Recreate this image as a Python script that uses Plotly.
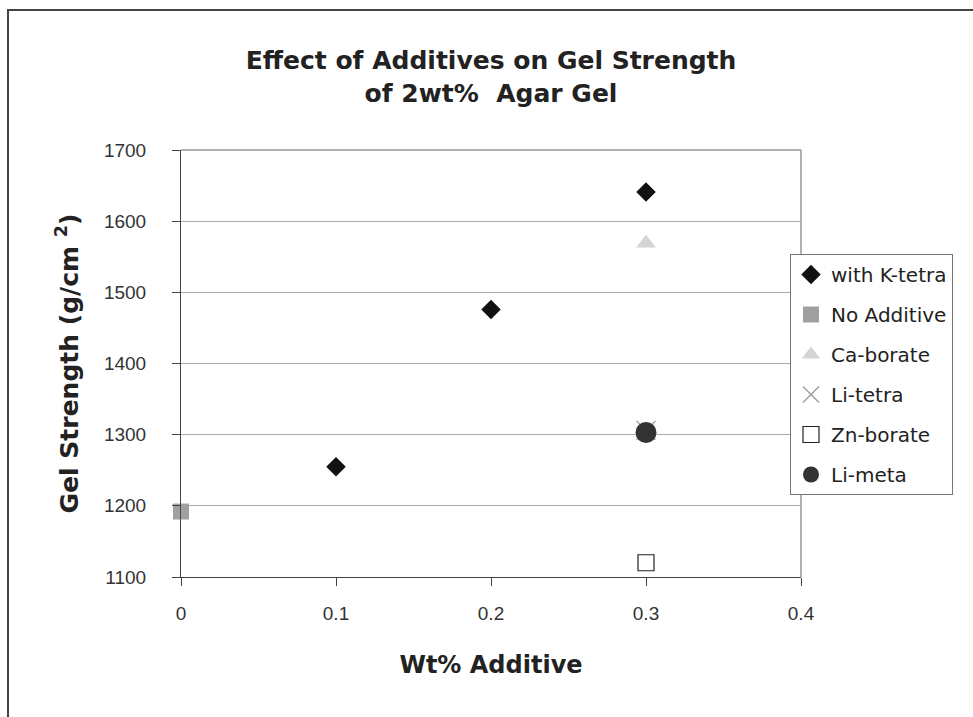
import plotly.graph_objects as go

# Gel strength (g/cm^2) versus additive loading (wt%)
k_tetra_x = [0.1, 0.2, 0.3]
k_tetra_y = [1255, 1476, 1641]
no_add_x = [0.0]
no_add_y = [1192]
ca_borate_x = [0.3]
ca_borate_y = [1569]
li_tetra_x = [0.3]
li_tetra_y = [1306]
zn_borate_x = [0.3]
zn_borate_y = [1120]
li_meta_x = [0.3]
li_meta_y = [1303]

x_ticks = [0, 0.1, 0.2, 0.3, 0.4]
x_tick_text = ["0", "0.1", "0.2", "0.3", "0.4"]
y_ticks = [1100, 1200, 1300, 1400, 1500, 1600, 1700]

series = [
    ("with K-tetra", k_tetra_x, k_tetra_y, dict(symbol="diamond", size=15, color="#111111")),
    ("No Additive", no_add_x, no_add_y, dict(symbol="square", size=16, color="#a0a0a0")),
    ("Ca-borate", ca_borate_x, ca_borate_y, dict(symbol="triangle-up", size=17, color="#d4d4d4")),
    ("Li-tetra", li_tetra_x, li_tetra_y, dict(symbol="x-thin-open", size=19, color="#999999",
                                              line=dict(width=1.3, color="#999999"))),
    ("Zn-borate", zn_borate_x, zn_borate_y, dict(symbol="square-open", size=16, color="#222222",
                                                line=dict(width=1.2, color="#222222"))),
    ("Li-meta", li_meta_x, li_meta_y, dict(symbol="circle", size=21, color="#333333")),
]

fig = go.Figure()
for name, xs, ys, marker in series:
    fig.add_trace(go.Scatter(x=xs, y=ys, mode="markers", name=name, marker=marker,
                             legendgroup=name, cliponaxis=False))

W, H = 973, 717
L, R, T, B = 181, 172, 150, 140
pw, ph = W - L - R, H - T - B


def px_x(p):
    return (p - L) / pw


def px_y(p):
    return (H - B - p) / ph


BOLD = "DejaVu Sans, Verdana, sans-serif"
THIN = "Liberation Sans, Arial, sans-serif"

fig.update_layout(
    width=W, height=H,
    margin=dict(l=L, r=R, t=T, b=B),
    paper_bgcolor="white", plot_bgcolor="white",
    font=dict(family=BOLD, color="#222222"),
    title=dict(text="<b>Effect of Additives on Gel Strength<br>of 2wt%  Agar Gel</b>",
               x=0.5, xref="paper", xanchor="center",
               y=1 - 69 / H, yanchor="middle",
               font=dict(size=25, color="#222222", family=BOLD)),
    showlegend=True,
    legend=dict(x=px_x(790), xanchor="left", y=px_y(254), yanchor="top",
                bgcolor="white", bordercolor="#777777", borderwidth=1,
                font=dict(size=20, color="#222222", family=BOLD),
                tracegroupgap=11, itemsizing="trace", itemwidth=30),
    xaxis=dict(range=[0, 0.4], tickvals=x_ticks, ticktext=x_tick_text,
               showgrid=False, zeroline=False,
               showline=True, linecolor="#444444", linewidth=1, mirror=False,
               ticks="outside", ticklen=8, tickcolor="#444444",
               ticklabelstandoff=11,
               tickfont=dict(size=19, color="#333333", family=THIN),
               title=dict(text="<b>Wt% Additive</b>",
                          font=dict(size=24, color="#222222", family=BOLD),
                          standoff=33)),
    yaxis=dict(range=[1100, 1700], tickvals=y_ticks,
               showgrid=True, gridcolor="#aaaaaa", gridwidth=1, zeroline=False,
               showline=True, linecolor="#444444", linewidth=1, mirror=False,
               ticks="outside", ticklen=8, tickcolor="#444444",
               ticklabelstandoff=22,
               tickfont=dict(size=19, color="#333333", family=THIN),
               title=dict(text="<b>Gel Strength (g/cm <sup>2</sup>)</b>",
                          font=dict(size=25, color="#222222", family=BOLD), standoff=18)),
    shapes=[
        # top and right edges of the plot area
        dict(type="line", xref="paper", yref="paper", x0=0, x1=1, y0=1, y1=1,
             line=dict(color="#999999", width=1.5)),
        dict(type="line", xref="paper", yref="paper", x0=1, x1=1, y0=0, y1=1,
             line=dict(color="#999999", width=1.5)),
        # outer chart frame
        dict(type="rect", xref="paper", yref="paper",
             x0=px_x(8), x1=px_x(980), y0=px_y(725), y1=px_y(10),
             line=dict(color="#444444", width=2), layer="below"),
    ],
)

fig.write_html("out.html")
